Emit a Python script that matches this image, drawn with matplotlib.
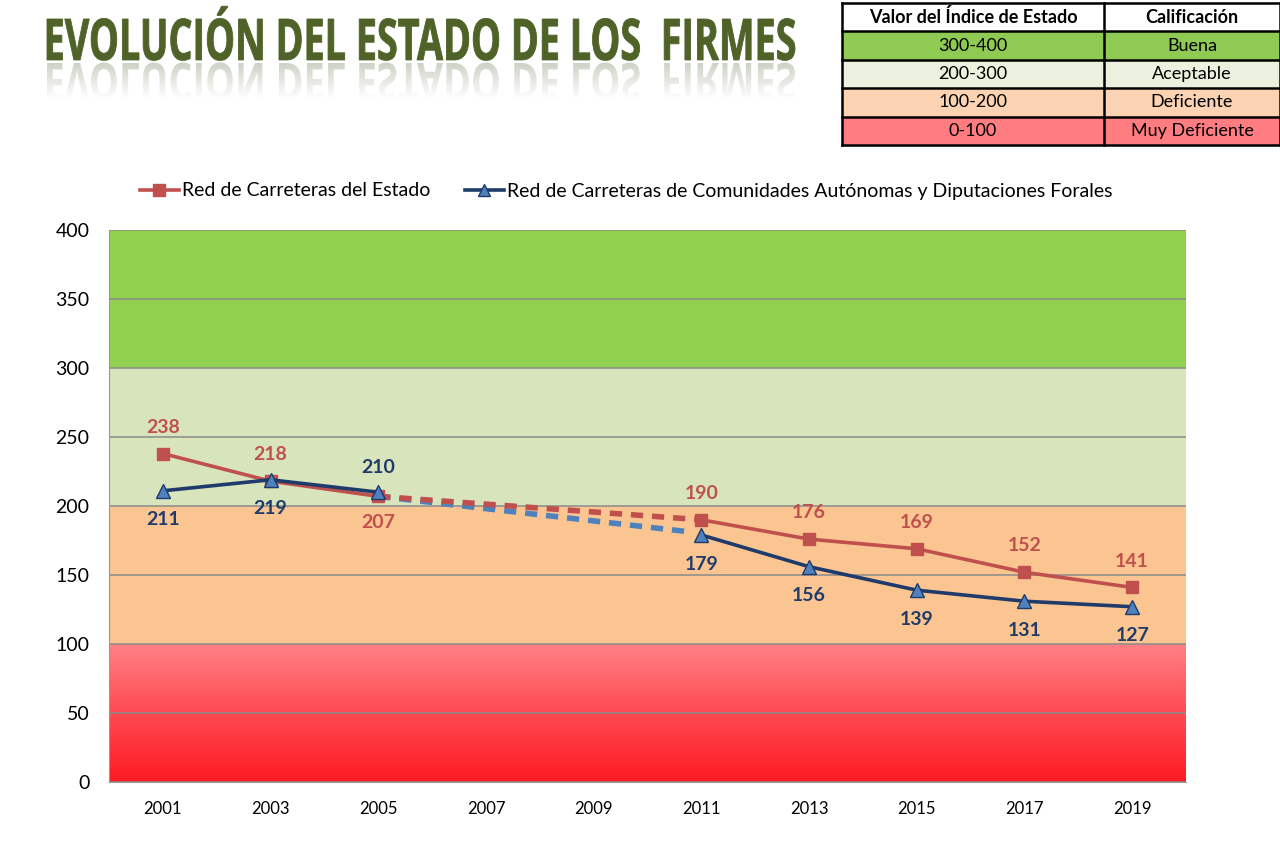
"""
Evolución del estado de los firmes (índice de estado 2001-2019).
"""

import numpy as np
import matplotlib
matplotlib.use("Agg")
import matplotlib.pyplot as plt
from matplotlib.colors import LinearSegmentedColormap
from matplotlib.font_manager import FontProperties
from matplotlib.lines import Line2D
from matplotlib.patches import PathPatch, Rectangle
from matplotlib.textpath import TextPath
from matplotlib.transforms import Affine2D

plt.rcParams["font.family"] = ["Lato", "DejaVu Sans"]

# Datos
years = ["2001", "2003", "2005", "2007", "2009", "2011", "2013", "2015", "2017", "2019"]
estado = [238, 218, 207, None, None, 190, 176, 169, 152, 141]
autonomicas = [211, 219, 210, None, None, 179, 156, 139, 131, 127]
# tramo sin datos 2005 -> 2011 (línea discontinua)
estado_hueco = [207, 190]
autonomicas_hueco = [207, 181]
estado_pos = ["up", "up", "down", None, None, "up", "up", "up", "up", "up"]
autonomicas_pos = ["down", "down", "up", None, None, "down", "down", "down", "down", "down"]

serie_estado = "Red de Carreteras del Estado"
serie_auto = "Red de Carreteras de Comunidades Autónomas y Diputaciones Forales"

# Bandas de calificación
band_edges = [100, 200, 300, 400]
band_colors = ["#fbc592", "#d8e4bc", "#92d050"]

# Tabla de la leyenda
tabla_cab = ["Valor del Índice de Estado", "Calificación"]
tabla_rangos = ["300-400", "200-300", "100-200", "0-100"]
tabla_calif = ["Buena", "Aceptable", "Deficiente", "Muy Deficiente"]
tabla_colores = ["#8fcb52", "#ebf1de", "#fbd3b3", "#ff7d80"]

ROJO = "#c0504d"
AZUL = "#1f3b6b"
AZUL_CLARO = "#4f81bd"
TITULO = "#4f6228"

W, H = 1280, 841
fig = plt.figure(figsize=(W / 100, H / 100), dpi=100)
fig.patch.set_facecolor("white")

# --- gráfico principal ---
ax = fig.add_axes([109 / W, (H - 782) / H, 1077 / W, 552 / H])
x = np.arange(len(years))

grad = LinearSegmentedColormap.from_list("rojo", ["#fe1a22", "#ff4a52", "#ff8085"])
ax.imshow(np.linspace(0, 1, 256).reshape(-1, 1), extent=(-0.5, len(years) - 0.5, 0, band_edges[0]),
          origin="lower", cmap=grad, aspect="auto", zorder=0)
for lo, hi, c in zip(band_edges[:-1], band_edges[1:], band_colors):
    ax.axhspan(lo, hi, color=c, lw=0, zorder=0)

ax.set_xlim(-0.5, len(years) - 0.5)
ax.set_ylim(0, 400)
ax.set_yticks(np.arange(0, 401, 50))
ax.yaxis.grid(True, color="#8a8a8a", lw=1.1, zorder=1)
ax.set_axisbelow(True)
ax.set_xticks(x)
ax.set_xticklabels(years)
ax.tick_params(axis="y", length=0, pad=14, labelsize=14)
ax.tick_params(axis="x", length=0, pad=14, labelsize=12)
for s in ["top", "right"]:
    ax.spines[s].set_visible(False)
for s in ["left", "bottom"]:
    ax.spines[s].set_color("#9a9a9a")

e = np.array([np.nan if v is None else v for v in estado], dtype=float)
a = np.array([np.nan if v is None else v for v in autonomicas], dtype=float)

ax.plot([x[2], x[5]], estado_hueco, color=ROJO, lw=4, ls=(0, (2.2, 1.6)), zorder=3)
ax.plot([x[2], x[5] - 0.08], autonomicas_hueco, color=AZUL_CLARO, lw=4, ls=(0, (2.2, 1.6)), zorder=2.9)

ax.plot(x, e, color=ROJO, lw=2.6, marker="s", ms=9, mfc=ROJO, mec=ROJO, zorder=4)
ax.plot(x, a, color=AZUL, lw=2.6, marker="^", ms=10, mfc=AZUL_CLARO, mec=AZUL, mew=1, zorder=5)

for xi, v, p in zip(x, estado, estado_pos):
    if v is None:
        continue
    ax.annotate(str(v), (xi, v), xytext=(0, 19 if p == "up" else -19), textcoords="offset points",
                ha="center", va="center", color=ROJO, fontsize=14, fontweight="bold", zorder=6)
for xi, v, p in zip(x, autonomicas, autonomicas_pos):
    if v is None:
        continue
    ax.annotate(str(v), (xi, v), xytext=(0, 18 if p == "up" else -21), textcoords="offset points",
                ha="center", va="center", color=AZUL, fontsize=14, fontweight="bold", zorder=6)

handles = [
    Line2D([], [], color=ROJO, lw=2.6, marker="s", ms=8, mfc=ROJO, mec=ROJO),
    Line2D([], [], color=AZUL, lw=2.6, marker="^", ms=9, mfc=AZUL_CLARO, mec=AZUL),
]
fig.legend(handles, [serie_estado, serie_auto], loc="center", bbox_to_anchor=(626 / W, 1 - 191 / H),
           ncol=2, frameon=False, fontsize=14, handlelength=2.0, handletextpad=0.15, columnspacing=1.8)

# --- título con reflejo ---
fp = FontProperties(family="Open Sans", weight="bold")
tp = TextPath((0, 0), "EVOLUCIÓN DEL ESTADO DE LOS  FIRMES", prop=fp, size=100)
cap = TextPath((0, 0), "E", prop=fp, size=100).get_extents().height
ext = tp.get_extents()
sy = 41 / cap
sx = 748 / ext.width
base_y = H - 60
to_fig = Affine2D().scale(1 / 100) + fig.dpi_scale_trans
t_main = Affine2D().translate(-ext.x0, 0).scale(sx, sy).translate(47, base_y)
fig.patches.append(PathPatch(t_main.transform_path(tp), transform=to_fig, color=TITULO, lw=0.6,
                             ec=TITULO, zorder=1))
t_refl = Affine2D().translate(-ext.x0, 0).scale(sx, -sy * 0.9).translate(47, base_y - 3)
fig.patches.append(PathPatch(t_refl.transform_path(tp), transform=to_fig, color="#9aa58c", alpha=0.6,
                             lw=0, zorder=1))
fade = fig.add_axes([40 / W, (H - 118) / H, 770 / W, 58 / H])
fade.set_zorder(5)
rgba = np.ones((64, 2, 4))
rgba[:, :, 3] = np.clip(np.linspace(0.12, 1.45, 64), 0, 1)[:, None]
fade.imshow(rgba, aspect="auto", extent=(0, 1, 0, 1), origin="upper")
fade.axis("off")

# --- tabla de calificación ---
tb = fig.add_axes([842 / W, (H - 145) / H, 438 / W, 142 / H])
tb.set_xlim(0, 438)
tb.set_ylim(142, 0)
tb.axis("off")
row_h = 142 / 5
col_x = [0, 262, 438]
tb.add_patch(Rectangle((0, 0), 438, row_h, fc="white", ec="none"))
for i, c in enumerate(tabla_colores):
    tb.add_patch(Rectangle((0, row_h * (i + 1)), 438, row_h, fc=c, ec="none"))
for j, txt in enumerate(tabla_cab):
    tb.text((col_x[j] + col_x[j + 1]) / 2, row_h / 2, txt, ha="center", va="center",
            fontsize=13, fontweight="bold")
for i, (r, c) in enumerate(zip(tabla_rangos, tabla_calif)):
    yc = row_h * (i + 1.5)
    tb.text(131, yc, r, ha="center", va="center", fontsize=13)
    tb.text(350, yc, c, ha="center", va="center", fontsize=13)
for i in range(6):
    tb.plot([0, 438], [row_h * i, row_h * i], color="black", lw=1.8, clip_on=False)
for cx in col_x:
    tb.plot([cx, cx], [0, 142], color="black", lw=1.8, clip_on=False)

fig.savefig("out.png", dpi=100)
